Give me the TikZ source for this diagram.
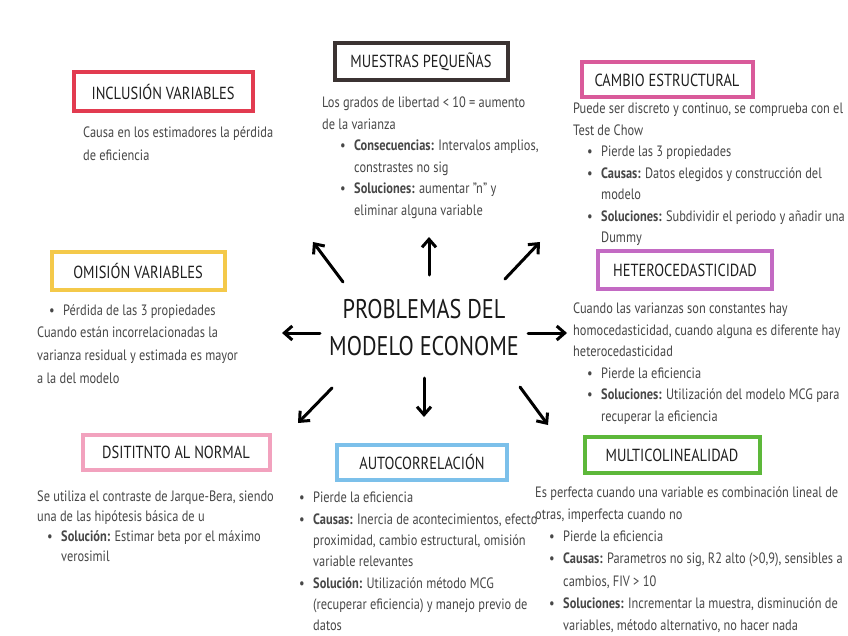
\documentclass[tikz,border=0pt]{standalone}
\usepackage{fontspec}
\setmainfont{PT Sans}[FakeStretch=0.825]
\usepackage{xcolor}
\usetikzlibrary{arrows.meta}

\definecolor{incred}{HTML}{E23B50}
\definecolor{muedark}{HTML}{3B3332}
\definecolor{campink}{HTML}{D95A9A}
\definecolor{omiyellow}{HTML}{F4C94A}
\definecolor{hetpurple}{HTML}{C36AC3}
\definecolor{norpink}{HTML}{F2A2BE}
\definecolor{autblue}{HTML}{7CC0EA}
\definecolor{mulgreen}{HTML}{5DB83A}

% bullet line and its continuation
\newcommand{\itm}[1][14pt]{\hspace*{#1}\makebox[14pt][l]{\textbullet}}
\newcommand{\cnt}[1][14pt]{\hspace*{\dimexpr #1+14pt\relax}}

\begin{document}
\begin{tikzpicture}[
    x=1pt, y=-1pt,
    every node/.style={inner sep=0pt},
    title/.style={draw, line width=4pt, font=\fontsize{17.5}{20}\selectfont, text=black!88},
    body/.style={anchor=north west, align=left, font=\fontsize{15}{21.5}\selectfont, text=black!72},
    arr/.style={-{Straight Barb[length=8pt,width=14pt]}, line width=3pt, line cap=round}
]
\fill[white] (0,0) rectangle (848,636);

\node[font=\fontsize{27}{37}\selectfont, align=center, text=black!90] (main) at (424,328) {PROBLEMAS DEL\\MODELO ECONOME};

% titles
\node[title, draw=incred, minimum width=179pt, minimum height=39pt] (inc) at (163,92) {INCLUSIÓN VARIABLES};
\node[title, draw=muedark, minimum width=173pt, minimum height=37pt] (mue) at (421,62) {MUESTRAS PEQUEÑAS};
\node[title, draw=campink, minimum width=171pt, minimum height=35pt] (cam) at (667,80) {CAMBIO ESTRUCTURAL};
\node[title, draw=omiyellow, minimum width=173pt, minimum height=38pt] (omi) at (138,271) {OMISIÓN VARIABLES};
\node[title, draw=hetpurple, minimum width=174pt, minimum height=37pt] (het) at (685,270) {HETEROCEDASTICIDAD};
\node[title, draw=norpink, minimum width=187pt, minimum height=35pt] (nor) at (176,452) {DSITITNTO AL NORMAL};
\node[title, draw=autblue, minimum width=170pt, minimum height=35pt] (aut) at (422,462) {AUTOCORRELACIÓN};
\node[title, draw=mulgreen, minimum width=175pt, minimum height=36pt] (mul) at (672,455) {MULTICOLINEALIDAD};

% texts
\node[body, font=\fontsize{15}{23}\selectfont] (inctxt) at (83,127) {Causa en los estimadores la pérdida\\de eficiencia};
\node[body] (muetxt) at (322,97) {Los grados de libertad < 10 = aumento\\
de la varianza\\
\itm[18pt]\textbf{Consecuencias:} Intervalos amplios,\\
\cnt[18pt]constrastes no sig\\
\itm[18pt]\textbf{Soluciones:} aumentar "n" y\\
\cnt[18pt]eliminar alguna variable};
\node[body] (camtxt) at (573,103) {Puede ser discreto y continuo, se comprueba con el\\
Test de Chow\\
\itm Pierde las 3 propiedades\\
\itm\textbf{Causas:} Datos elegidos y construcción del\\
\cnt modelo\\
\itm\textbf{Soluciones:} Subdividir el periodo y añadir una\\
\cnt Dummy};
\node[body, font=\fontsize{15}{22.7}\selectfont] (omitxt) at (37,304) {\itm[12pt]Pérdida de las 3 propiedades\\
Cuando están incorrelacionadas la\\
varianza residual y estimada es mayor\\
a la del modelo};
\node[body] (hettxt) at (573,303) {Cuando las varianzas son constantes hay\\
homocedasticidad, cuando alguna es diferente hay\\
heterocedasticidad\\
\itm Pierde la eficiencia\\
\itm\textbf{Soluciones:} Utilización del modelo MCG para\\
\cnt recuperar la eficiencia};
\node[body, font=\fontsize{15}{20}\selectfont] (nortxt) at (37,491) {Se utiliza el contraste de Jarque-Bera, siendo\\
una de las hipótesis básica de u\\
\itm[10pt]\textbf{Solución:} Estimar beta por el máximo\\
\cnt[10pt]verosimil};
\node[body, font=\fontsize{15}{21.3}\selectfont] (auttxt) at (299,492) {\itm[0pt]Pierde la eficiencia\\
\itm[0pt]\textbf{Causas:} Inercia de acontecimientos, efecto\\
\cnt[0pt]proximidad, cambio estructural, omisión\\
\cnt[0pt]variable relevantes\\
\itm[0pt]\textbf{Solución:} Utilización método MCG\\
\cnt[0pt](recuperar eficiencia) y manejo previo de\\
\cnt[0pt]datos};
\node[body, font=\fontsize{15}{22.3}\selectfont] (multxt) at (535,486) {Es perfecta cuando una variable es combinación lineal de\\
otras, imperfecta cuando no\\
\itm Pierde la eficiencia\\
\itm\textbf{Causas:} Parametros no sig, R2 alto (>0,9), sensibles a\\
\cnt cambios, FIV > 10\\
\itm\textbf{Soluciones:} Incrementar la muestra, disminución de\\
\cnt variables, método alternativo, no hacer nada};

% arrows
\coordinate (ul0) at (343,282); \coordinate (ul1) at (313,242);
\coordinate (up0) at (429,275); \coordinate (up1) at (429,237);
\coordinate (ur0) at (505,279); \coordinate (ur1) at (540,242);
\coordinate (lf0) at (320,333); \coordinate (lf1) at (282,333);
\coordinate (rt0) at (528,333); \coordinate (rt1) at (567,333);
\coordinate (dl0) at (332,388); \coordinate (dl1) at (298,423);
\coordinate (dn0) at (424,378); \coordinate (dn1) at (424,417);
\coordinate (dr0) at (520,387); \coordinate (dr1) at (548,425);
\foreach \d in {ul,up,ur,lf,rt,dl,dn,dr}
    \draw[arr] (\d0) -- (\d1);
\end{tikzpicture}
\end{document}
